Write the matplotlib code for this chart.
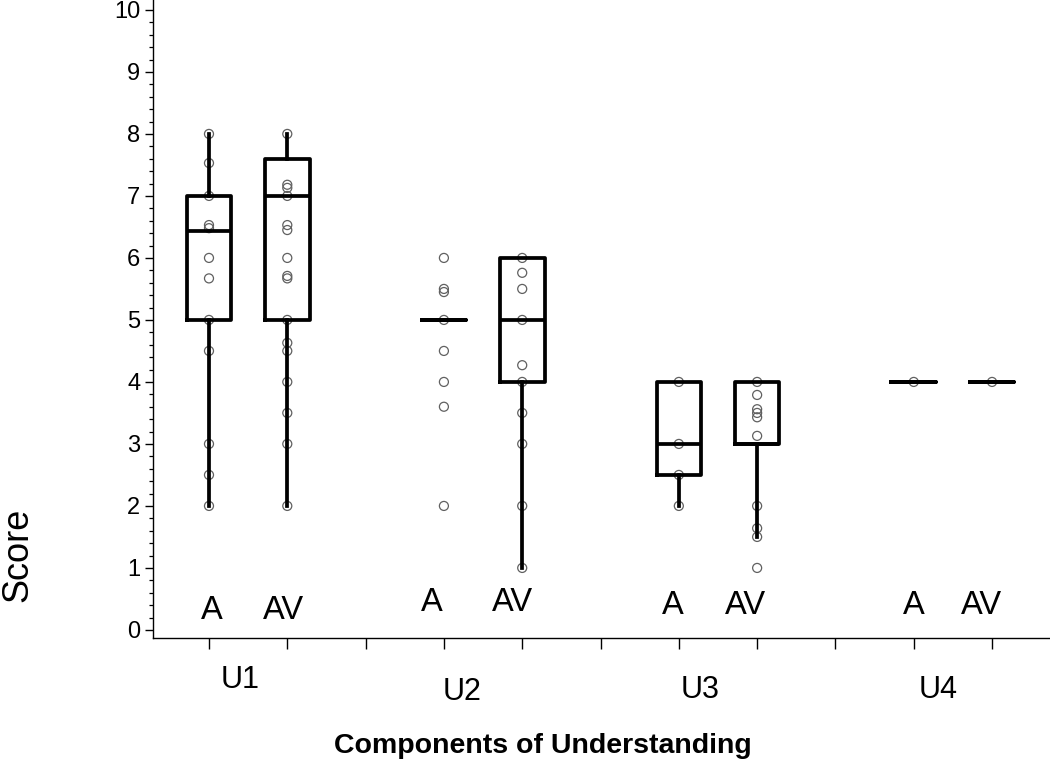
import matplotlib
matplotlib.use("Agg")
import matplotlib.pyplot as plt
from matplotlib.ticker import MultipleLocator

plt.rcParams['font.family'] = ['Liberation Sans', 'DejaVu Sans']

# ---- data ----
groups = ["U1", "U2", "U3", "U4"]
conditions = ["A", "AV"]
positions = [1, 2, 4, 5, 7, 8, 10, 11]

u1_a = [8.0, 7.53, 7.0, 6.53, 6.48, 6.0, 5.67, 5.0, 4.5, 3.0, 2.5, 2.0]
u1_av = [8.0, 7.18, 7.13, 7.0, 6.53, 6.45, 6.0, 5.71, 5.67, 5.0, 4.63, 4.5, 4.0, 3.5, 3.0, 2.0]
u2_a = [6.0, 5.5, 5.45, 5.0, 4.5, 4.0, 3.6, 2.0]
u2_av = [6.0, 5.76, 5.5, 5.0, 4.27, 4.0, 3.5, 3.0, 2.0, 1.0]
u3_a = [4.0, 3.0, 2.5, 2.0]
u3_av = [4.0, 3.79, 3.56, 3.5, 3.43, 3.13, 2.0, 1.64, 1.5, 1.0]
u4_a = [4.0]
u4_av = [4.0]
points = [u1_a, u1_av, u2_a, u2_av, u3_a, u3_av, u4_a, u4_av]

q1 = [5.0, 5.0, 5.0, 4.0, 2.5, 3.0, 4.0, 4.0]
med = [6.43, 7.0, 5.0, 5.0, 3.0, 3.0, 4.0, 4.0]
q3 = [7.0, 7.6, 5.0, 6.0, 4.0, 4.0, 4.0, 4.0]
whislo = [2.0, 2.0, 5.0, 1.0, 2.0, 1.5, 4.0, 4.0]
whishi = [8.0, 8.0, 5.0, 6.0, 4.0, 4.0, 4.0, 4.0]

# label placement (data coords)
cond_label_x = [1.04, 1.95, 3.84, 4.88, 6.92, 7.85, 10.0, 10.87]
cond_label_y = [0.32, 0.32, 0.44, 0.44, 0.39, 0.39, 0.39, 0.39]
group_label_x = [1.4, 4.23, 7.27, 10.31]
group_label_y = [-0.81, -1.0, -0.97, -0.97]

# ---- figure ----
fig = plt.figure(figsize=(10.5, 7.64), dpi=100)
ax = fig.add_axes([153/1050, 1 - 638/764, 1 - 153/1050, 638/764])

stats = []
for i in range(len(positions)):
    stats.append(dict(q1=q1[i], med=med[i], q3=q3[i],
                      whislo=whislo[i], whishi=whishi[i], fliers=[]))

lw = 2.7
ax.bxp(stats, positions=positions, widths=0.57, showcaps=False,
       showfliers=False, patch_artist=False,
       boxprops=dict(color='black', linewidth=lw),
       whiskerprops=dict(color='black', linewidth=lw),
       medianprops=dict(color='black', linewidth=lw),
       manage_ticks=False, zorder=3)

for pos, vals in zip(positions, points):
    ax.scatter([pos] * len(vals), vals, s=42, facecolors='none',
               edgecolors='#606060', linewidths=0.9, zorder=2)

ax.set_xlim(0.285, 11.74)
ax.set_ylim(-0.13, 10.16)

ax.spines['top'].set_visible(False)
ax.spines['right'].set_visible(False)
ax.spines['left'].set_linewidth(1.0)
ax.spines['bottom'].set_linewidth(1.0)

ax.set_xticks(list(range(1, 12)))
ax.set_xticklabels([])
ax.tick_params(axis='x', direction='out', length=8, width=1.0)

ax.yaxis.set_major_locator(MultipleLocator(1))
ax.yaxis.set_minor_locator(MultipleLocator(0.2))
ax.tick_params(axis='y', which='major', direction='out', length=6, width=1.0,
               labelsize=17, pad=3)
ax.tick_params(axis='y', which='minor', direction='out', length=3, width=0.9)

for i, pos in enumerate(positions):
    ax.text(cond_label_x[i], cond_label_y[i], conditions[i % 2],
            ha='center', va='center', fontsize=23.5)

for g, gx, gy in zip(groups, group_label_x, group_label_y):
    ax.text(gx, gy, g, ha='center', va='center', fontsize=22, clip_on=False)

fig.text(18/1050, 1 - 555/764, "Score", rotation=90, ha='center',
         va='center', fontsize=26)
fig.text(543/1050, 1 - 746/764, "Components of Understanding",
         ha='center', va='center', fontsize=20.5, fontweight='bold')

fig.savefig("out.png", dpi=100)
